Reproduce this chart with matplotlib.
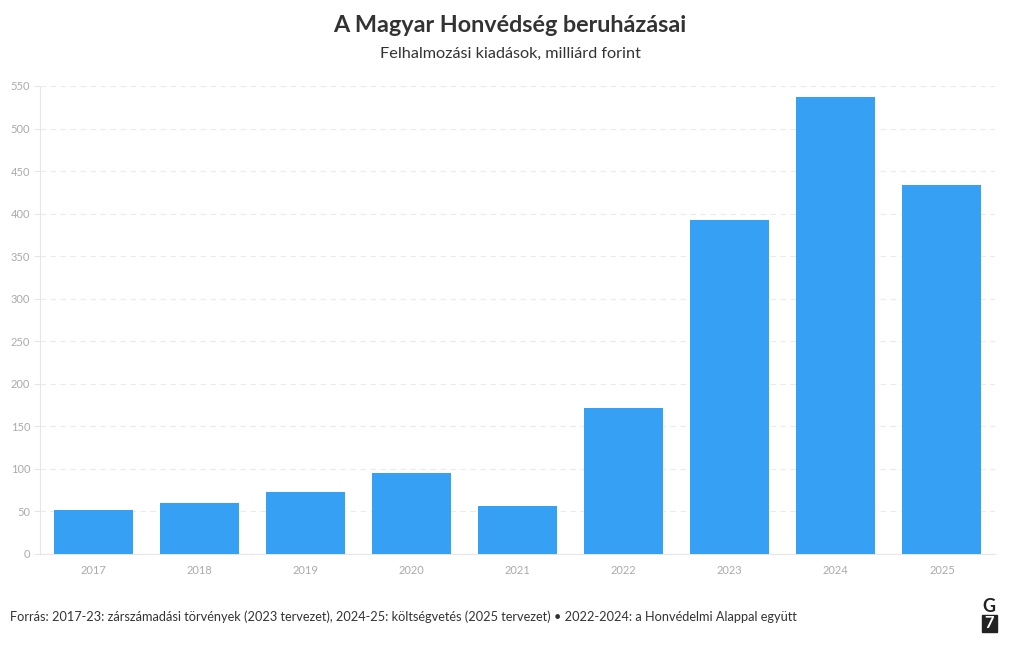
import matplotlib.pyplot as plt
from matplotlib.patches import Rectangle

# Felhalmozási kiadások, milliárd forint
years = ['2017', '2018', '2019', '2020', '2021', '2022', '2023', '2024', '2025']
values = [52, 60, 73, 95, 56, 172, 393, 537, 434]
yticks = [0, 50, 100, 150, 200, 250, 300, 350, 400, 450, 500, 550]

plt.rcParams['font.family'] = ['Lato', 'DejaVu Sans']

fig = plt.figure(figsize=(10.2, 6.5), dpi=100)
ax = fig.add_axes([40 / 1020, 96 / 650, 955 / 1020, 468 / 650])

x = list(range(len(years)))
ax.bar(x, values, width=0.745, color='#36a0f4', zorder=3)

ax.set_xlim(-0.5, len(years) - 0.5)
ax.set_ylim(0, 550)
ax.set_xticks(x)
ax.set_xticklabels(years)
ax.set_yticks(yticks)
ax.yaxis.grid(True, linestyle=(0, (5, 4)), color='#ebebeb', linewidth=0.8, zorder=0)
ax.tick_params(axis='both', colors='#aaaaaa', labelsize=8, length=4)
ax.tick_params(axis='x', length=0, pad=8)
ax.tick_params(axis='y', color='#e6e6e6', pad=3)

for side in ['top', 'right']:
    ax.spines[side].set_visible(False)
ax.spines['left'].set_color('#e6e6e6')
ax.spines['bottom'].set_color('#e6e6e6')

fig.text(0.5, 1 - 25 / 650, 'A Magyar Honvédség beruházásai', ha='center', va='center',
         fontsize=16.8, fontweight='bold', color='#333333')
fig.text(0.5, 1 - 54 / 650, 'Felhalmozási kiadások, milliárd forint', ha='center', va='center',
         fontsize=11.7, color='#333333')
fig.text(10 / 1020, 1 - 617 / 650,
         'Forrás: 2017-23: zárszámadási törvények (2023 tervezet), 2024-25: költségvetés '
         '(2025 tervezet) • 2022-2024: a Honvédelmi Alappal együtt',
         ha='left', va='center', fontsize=9.2, color='#333333')

# G7 logo
fig.text(989 / 1020, 1 - 606 / 650, 'G', ha='center', va='center', fontsize=13,
         fontweight='bold', color='#222222')
fig.patches.append(Rectangle((982 / 1020, 1 - 632 / 650), 15 / 1020, 17 / 650,
                             transform=fig.transFigure, color='#222222'))
fig.text(989.5 / 1020, 1 - 623.5 / 650, '7', ha='center', va='center', fontsize=12,
         fontweight='bold', color='white')

plt.savefig('out.png', dpi=100)
